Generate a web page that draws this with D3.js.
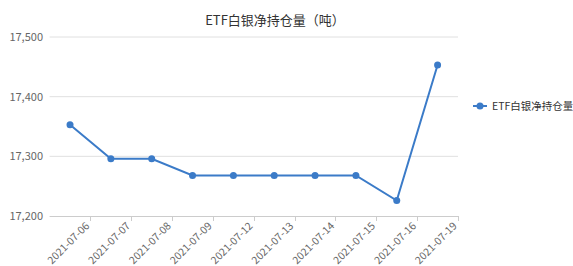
<!DOCTYPE html>
<html>
<head>
<meta charset="utf-8">
<script src="https://cdn.jsdelivr.net/npm/d3@7"></script>
<style>
  html, body { margin: 0; padding: 0; background: #fff; }
  svg { display: block; }
  text { font-family: "Noto Sans CJK SC", "Noto Sans", sans-serif; }
</style>
</head>
<body>
<svg id="chart" width="573" height="266"></svg>
<script>
// ETF silver net holdings, tonnes
const dates = ["2021-07-06", "2021-07-07", "2021-07-08", "2021-07-09", "2021-07-12",
               "2021-07-13", "2021-07-14", "2021-07-15", "2021-07-16", "2021-07-19"];
const holdings = [17353, 17296, 17296, 17268, 17268, 17268, 17268, 17268, 17226, 17453];
const yTicks = [17200, 17300, 17400, 17500];
const titleText = "ETF白银净持仓量（吨）";
const seriesName = "ETF白银净持仓量";

const lineColor = "#3b7bc8";
const svg = d3.select("#chart");

const plot = { left: 49.6, right: 458, top: 37, bottom: 216 };

const x = d3.scaleBand().domain(dates).range([plot.left, plot.right]);
const y = d3.scaleLinear().domain([17200, 17500]).range([plot.bottom, plot.top]);

// horizontal grid lines
svg.append("g")
  .selectAll("line")
  .data(yTicks.filter(d => d !== 17200))
  .join("line")
  .attr("x1", plot.left).attr("x2", plot.right)
  .attr("y1", d => y(d)).attr("y2", d => y(d))
  .attr("stroke", "#e0e0e0").attr("stroke-width", 1);

// y axis labels
const fmt = d3.format(",");
svg.append("g")
  .selectAll("text")
  .data(yTicks)
  .join("text")
  .attr("x", 43).attr("y", d => y(d))
  .attr("dy", "0.35em")
  .attr("text-anchor", "end")
  .attr("font-size", 11)
  .attr("fill", "#666")
  .text(d => fmt(d));

// x axis line and ticks at band boundaries
const xAxis = svg.append("g");
xAxis.append("line")
  .attr("x1", plot.left).attr("x2", plot.right)
  .attr("y1", plot.bottom + 0.5).attr("y2", plot.bottom + 0.5)
  .attr("stroke", "#ccc").attr("stroke-width", 1);
xAxis.selectAll("line.tick")
  .data(dates)
  .join("line")
  .attr("class", "tick")
  .attr("x1", d => Math.round(x(d) + x.bandwidth()) + 0.5)
  .attr("x2", d => Math.round(x(d) + x.bandwidth()) + 0.5)
  .attr("y1", plot.bottom).attr("y2", plot.bottom + 5)
  .attr("stroke", "#ccc");
xAxis.selectAll("text")
  .data(dates)
  .join("text")
  .attr("transform", d => `translate(${x(d) + x.bandwidth() - 3},${plot.bottom + 8}) rotate(-45)`)
  .attr("text-anchor", "end")
  .attr("dy", "0.35em")
  .attr("font-size", 10.5)
  .attr("fill", "#666")
  .text(d => d);

// series line and markers
const cx = d => x(d) + x.bandwidth() / 2;
const pts = dates.map((d, i) => [cx(d), y(holdings[i])]);
svg.append("path")
  .attr("d", d3.line()(pts))
  .attr("fill", "none")
  .attr("stroke", lineColor)
  .attr("stroke-width", 2);
svg.append("g")
  .selectAll("circle")
  .data(pts)
  .join("circle")
  .attr("cx", d => d[0]).attr("cy", d => d[1])
  .attr("r", 3.5)
  .attr("fill", lineColor);

// title
svg.append("text")
  .attr("x", 275).attr("y", 20)
  .attr("dy", "0.35em")
  .attr("text-anchor", "middle")
  .attr("font-size", 13)
  .attr("fill", "#333")
  .text(titleText);

// legend
const lg = svg.append("g").attr("transform", "translate(473,106)");
lg.append("line").attr("x1", 0).attr("x2", 14).attr("y1", 0).attr("y2", 0)
  .attr("stroke", lineColor).attr("stroke-width", 2);
lg.append("circle").attr("cx", 7).attr("cy", 0).attr("r", 3.5).attr("fill", lineColor);
lg.append("text").attr("x", 19).attr("y", 0).attr("dy", "0.35em")
  .attr("font-size", 10.5).attr("fill", "#333").text(seriesName);
</script>
</body>
</html>
